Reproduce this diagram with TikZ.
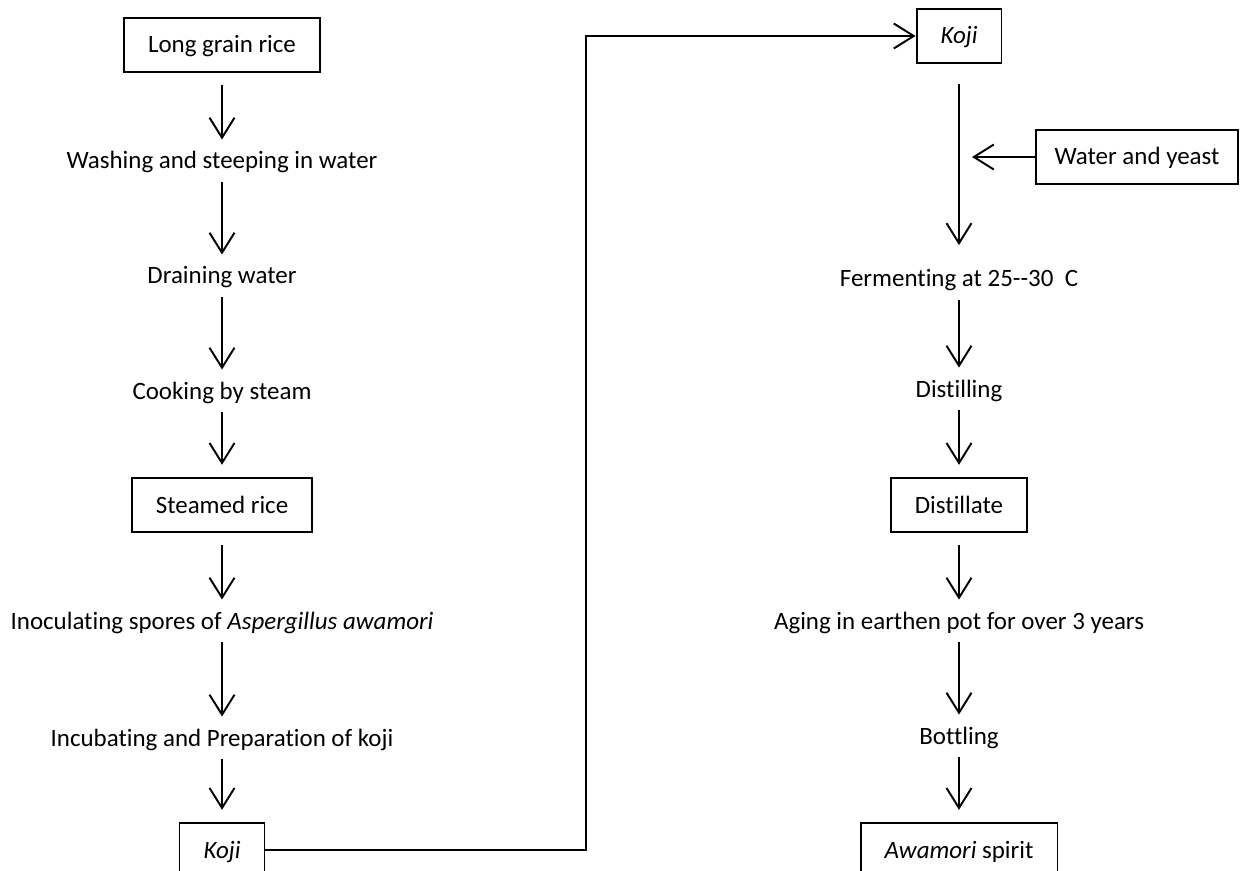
\documentclass[tikz,border=0pt]{standalone}
\usepackage{fontspec}
\setmainfont{Carlito}[Ligatures=NoCommon]
\usetikzlibrary{arrows.meta}

\begin{document}
\begin{tikzpicture}[x=0.02cm,y=-0.02cm,>={Straight Barb[length=0.4cm,width=0.5cm]},
  line width=1.1pt,font=\fontsize{14.2}{17}\selectfont,
  step node/.style={inner sep=0pt,text height=0.32cm,text depth=0cm},
  box node/.style={step node,draw,minimum height=1.07cm,inner xsep=0.48cm},
  flow/.style={->,shorten <=0.25cm,shorten >=0.25cm}]

  \useasboundingbox (0,0) rectangle (1243,871);

  % left column
  \node[box node]  (rice)    at (222,45)  {Long grain rice};
  \node[step node] (wash)    at (222,161) {Washing and steeping in water};
  \node[step node] (drain)   at (222,276) {Draining water};
  \node[step node] (cook)    at (222,391) {Cooking by steam};
  \node[box node]  (steamed) at (222,505) {Steamed rice};
  \node[step node] (inoc)    at (222,621) {Inoculating spores of \textit{Aspergillus awamori}};
  \node[step node] (incub)   at (222,738) {Incubating and Preparation of koji};
  \node[box node]  (kojiA)   at (222,850) {\textit{Koji}};

  % right column
  \node[box node]  (kojiB)   at (959,36)  {\textit{Koji}};
  \node[box node,inner xsep=0.38cm] (water) at (1137,157) {Water and yeast};
  \node[step node] (ferment) at (959,279) {Fermenting at 25-{}-30\ \ C};
  \node[step node] (distil)  at (959,389) {Distilling};
  \node[box node]  (distillate) at (959,505) {Distillate};
  \node[step node] (aging)   at (959,621) {Aging in earthen pot for over 3 years};
  \node[step node] (bottle)  at (959,736) {Bottling};
  \node[box node]  (awamori) at (959,850) {\textit{Awamori} spirit};

  \coordinate (turn) at (586,37);

  \draw[flow] (rice) -- (wash);
  \draw[flow] (wash) -- (drain);
  \draw[flow] (drain) -- (cook);
  \draw[flow] (cook) -- (steamed);
  \draw[flow] (steamed) -- (inoc);
  \draw[flow] (inoc) -- (incub);
  \draw[flow] (incub) -- (kojiA);

  \draw[->] (kojiA.east) -| (turn) |- (kojiB.west);

  \draw[flow,shorten <=0.4cm,shorten >=0.5cm] (kojiB) -- (ferment);
  \draw[->,shorten >=0.26cm] (water.west) -- (water.west -| kojiB);
  \draw[flow] (ferment) -- (distil);
  \draw[flow] (distil) -- (distillate);
  \draw[flow] (distillate) -- (aging);
  \draw[flow] (aging) -- (bottle);
  \draw[flow] (bottle) -- (awamori);

\end{tikzpicture}
\end{document}
